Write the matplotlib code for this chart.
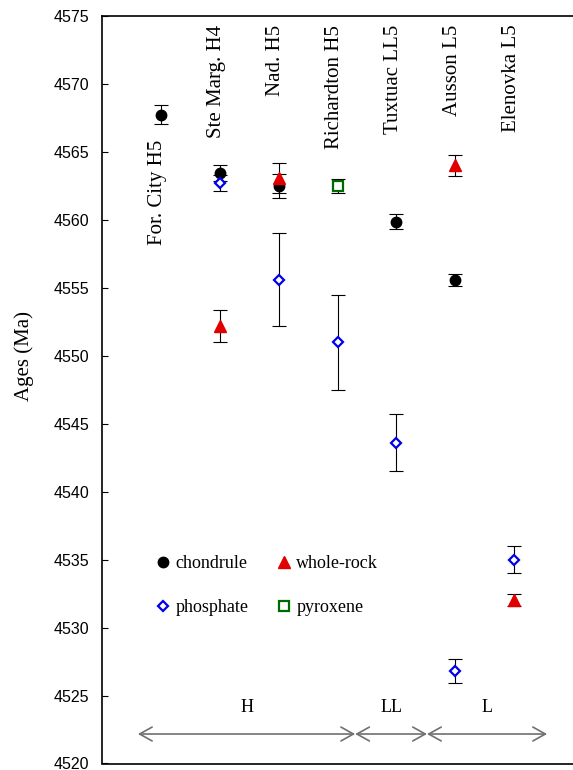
import matplotlib.pyplot as plt
from matplotlib.lines import Line2D

# Meteorite samples (x positions are 1..7)
meteorites = ['For. City H5', 'Ste Marg. H4', 'Nad. H5', 'Richardton H5',
              'Tuxtuac LL5', 'Ausson L5', 'Elenovka L5']

# ages in Ma, with uncertainties
chondrule_idx = [1, 2, 3, 5, 6]
chondrule_age = [4567.75, 4563.45, 4562.5, 4559.85, 4555.6]
chondrule_err = [0.7, 0.6, 0.9, 0.55, 0.45]

wholerock_idx = [2, 3, 6, 7]
wholerock_age = [4552.2, 4563.1, 4564.0, 4532.05]
wholerock_err = [1.2, 1.1, 0.8, 0.45]

phosphate_idx = [2, 3, 4, 5, 6, 7]
phosphate_age = [4562.7, 4555.6, 4551.0, 4543.6, 4526.8, 4535.0]
phosphate_err = [0.6, 3.4, 3.5, 2.1, 0.9, 1.0]

pyroxene_idx = [4]
pyroxene_age = [4562.5]
pyroxene_err = [0.5]

# chondrite groups along the bottom
groups = ['H', 'LL', 'L']
group_edges = [0.61, 4.30, 5.52, 7.56]

serif = 'Liberation Serif'

fig = plt.figure(figsize=(5.73, 7.70), dpi=100)
ax = fig.add_axes([102 / 573, 6.5 / 770, 471 / 573, 747.5 / 770])

series = [
    (chondrule_idx, chondrule_age, chondrule_err, dict(marker='o', ms=7.5, color='black', mfc='black', mec='black')),
    (wholerock_idx, wholerock_age, wholerock_err, dict(marker='^', ms=8, color='#e00000', mfc='#e00000', mec='#e00000')),
    (phosphate_idx, phosphate_age, phosphate_err, dict(marker='D', ms=5, color='#0000ee', mfc='white', mec='#0000ee', mew=1.6)),
    (pyroxene_idx, pyroxene_age, pyroxene_err, dict(marker='s', ms=6.5, color='#006a00', mfc='white', mec='#006a00', mew=1.6)),
]
labels = ['chondrule', 'whole-rock', 'phosphate', 'pyroxene']

for idx, age, err, style in series:
    ax.errorbar(idx, age, yerr=err, fmt='none', ecolor='black',
                elinewidth=0.8, capsize=5, capthick=0.8, zorder=2)
for idx, age, err, style in series:
    ax.plot(idx, age, linestyle='none', zorder=3, **style)

ax.set_xlim(0, 8)
ax.set_ylim(4520, 4575)
ax.set_yticks(range(4520, 4576, 5))
ax.set_xticks([])
ax.tick_params(axis='y', direction='in', length=4, width=0.8, pad=9,
               labelsize=11.5)
for lab in ax.get_yticklabels():
    lab.set_fontfamily('Liberation Sans')
ax.spines['right'].set_visible(False)
for s in ['left', 'top', 'bottom']:
    ax.spines[s].set_linewidth(1.2)

ax.set_ylabel('Ages (Ma)', fontsize=15, family=serif)
ax.yaxis.set_label_coords(-0.145, 0.545)

# sample names written vertically at the top
for i, name in enumerate(meteorites, start=1):
    ytop = 4565.9 if i == 1 else 4574.35
    ax.text(i - 0.05, ytop, name, rotation=90, ha='center', va='top',
            fontsize=15, family=serif)

# legend with 2 columns, filled row by row
handles = [Line2D([], [], linestyle='none', **s[3]) for s in series]
order = [0, 2, 1, 3]
ax.legend([handles[k] for k in order], [labels[k] for k in order], ncol=2,
          frameon=False, loc='upper left', bbox_to_anchor=(0.118, 0.279),
          borderpad=0, borderaxespad=0, handlelength=0.6, handletextpad=0.4,
          columnspacing=1.65, labelspacing=1.5,
          prop=dict(family=serif, size=13))

# group arrows
arrow_y = 4522.17
for g, x0, x1 in zip(groups, group_edges[:-1], group_edges[1:]):
    ax.annotate('', xy=(x1, arrow_y), xytext=(x0, arrow_y),
                arrowprops=dict(arrowstyle='<->,head_length=0.9,head_width=0.5',
                                color='#707070', lw=1.2, shrinkA=0, shrinkB=0))
    ax.text((x0 + x1) / 2, 4524.1, g, ha='center', va='center',
            fontsize=13, family=serif)

plt.savefig('out.png')
